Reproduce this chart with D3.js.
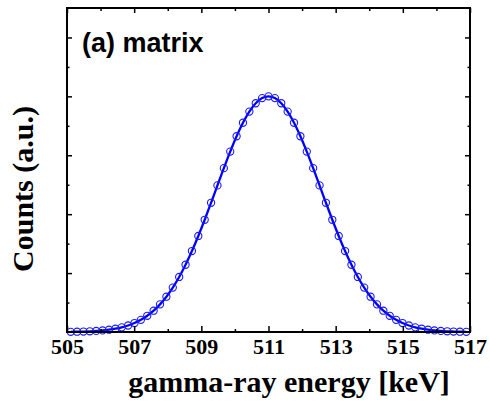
<!DOCTYPE html>
<html>
<head>
<meta charset="utf-8">
<script src="https://cdn.jsdelivr.net/npm/d3@7"></script>
<style>
  body { margin: 0; background: #fff; }
  svg { display: block; }
</style>
</head>
<body>
<div id="wrapper"></div>
<script>
// energies (keV) of the measured points
const energies = [
  505.11, 505.30, 505.49, 505.68, 505.87, 506.06, 506.25, 506.44, 506.63, 506.82,
  507.01, 507.20, 507.39, 507.58, 507.77, 507.96, 508.15, 508.34, 508.53, 508.72,
  508.91, 509.10, 509.29, 509.48, 509.67, 509.86, 510.05, 510.24, 510.43, 510.62,
  510.81, 511.00, 511.19, 511.38, 511.57, 511.76, 511.95, 512.14, 512.33, 512.52,
  512.71, 512.90, 513.09, 513.28, 513.47, 513.66, 513.85, 514.04, 514.23, 514.42,
  514.61, 514.80, 514.99, 515.18, 515.37, 515.56, 515.75, 515.94, 516.13, 516.32,
  516.51, 516.70, 516.89
]
// counts (a.u.)
const counts = [
  0.006, 0.010, 0.016, 0.024, 0.036, 0.053, 0.078, 0.112, 0.158, 0.221,
  0.304, 0.412, 0.550, 0.723, 0.938, 1.198, 1.508, 1.869, 2.284, 2.749,
  3.261, 3.810, 4.387, 4.977, 5.562, 6.125, 6.646, 7.105, 7.483, 7.766,
  7.941, 8.000, 7.941, 7.766, 7.483, 7.105, 6.646, 6.125, 5.562, 4.977,
  4.387, 3.810, 3.261, 2.749, 2.284, 1.869, 1.508, 1.198, 0.938, 0.723,
  0.550, 0.412, 0.304, 0.221, 0.158, 0.112, 0.078, 0.053, 0.036, 0.024,
  0.016, 0.010, 0.006
]
const xMajorTicks = [505, 507, 509, 511, 513, 515, 517]
const xMinorTicks = [506, 508, 510, 512, 514, 516]
const yMajorTicks = [2, 4, 6, 8, 10]
const yMinorTicks = [1, 3, 5, 7, 9]

const dataset = energies.map((e, i) => ({ energy: e, count: counts[i] }))
const xAccessor = d => d.energy
const yAccessor = d => d.count

let dimensions = {
  width: 490,
  height: 405,
  margin: { top: 8, right: 20, bottom: 73, left: 67 },
}
dimensions.boundedWidth = dimensions.width - dimensions.margin.left - dimensions.margin.right
dimensions.boundedHeight = dimensions.height - dimensions.margin.top - dimensions.margin.bottom

const wrapper = d3.select("#wrapper")
  .append("svg")
    .attr("width", dimensions.width)
    .attr("height", dimensions.height)

const bounds = wrapper.append("g")
  .attr("transform", `translate(${dimensions.margin.left},${dimensions.margin.top})`)

const xScale = d3.scaleLinear()
  .domain([505, 517])
  .range([0, dimensions.boundedWidth])

const yScale = d3.scaleLinear()
  .domain([0, 11])
  .range([dimensions.boundedHeight, 0])

// curve + open circles
const lineGenerator = d3.line()
  .x(d => xScale(xAccessor(d)))
  .y(d => yScale(yAccessor(d)))
  .curve(d3.curveCatmullRom)

bounds.append("path")
  .datum(dataset)
  .attr("d", lineGenerator)
  .attr("fill", "none")
  .attr("stroke", "#0000ff")
  .attr("stroke-width", 2.3)

bounds.selectAll("circle")
  .data(dataset)
  .enter().append("circle")
    .attr("cx", d => xScale(xAccessor(d)))
    .attr("cy", d => yScale(yAccessor(d)))
    .attr("r", 3.6)
    .attr("fill", "none")
    .attr("stroke", "#1a1aff")
    .attr("stroke-width", 1.1)

// axes, all ticks pointing inward
function styleAxis(g) {
  g.select(".domain").remove()
  g.selectAll(".tick line").attr("stroke", "#000").attr("stroke-width", 1.5)
}

const xAxis = bounds.append("g")
  .attr("transform", `translate(0,${dimensions.boundedHeight})`)
  .call(d3.axisBottom(xScale).tickValues(xMajorTicks).tickSize(-6).tickPadding(6).tickFormat(d3.format("d")))
  .call(styleAxis)
xAxis.selectAll("text")
  .attr("fill", "#000")
  .style("font-family", "'Liberation Serif', 'Times New Roman', serif")
  .style("font-weight", "bold")
  .style("font-size", "22px")

bounds.append("g")
  .attr("transform", `translate(0,${dimensions.boundedHeight})`)
  .call(d3.axisBottom(xScale).tickValues(xMinorTicks).tickSize(-3).tickFormat(""))
  .call(styleAxis)

bounds.append("g")
  .call(d3.axisTop(xScale).tickValues(xMajorTicks).tickSize(-5).tickFormat(""))
  .call(styleAxis)
bounds.append("g")
  .call(d3.axisTop(xScale).tickValues(xMinorTicks).tickSize(-3).tickFormat(""))
  .call(styleAxis)

bounds.append("g")
  .call(d3.axisLeft(yScale).tickValues(yMajorTicks).tickSize(-5).tickFormat(""))
  .call(styleAxis)
bounds.append("g")
  .call(d3.axisLeft(yScale).tickValues(yMinorTicks).tickSize(-2.5).tickFormat(""))
  .call(styleAxis)

bounds.append("g")
  .attr("transform", `translate(${dimensions.boundedWidth},0)`)
  .call(d3.axisRight(yScale).tickValues(yMajorTicks).tickSize(-5).tickFormat(""))
  .call(styleAxis)
bounds.append("g")
  .attr("transform", `translate(${dimensions.boundedWidth},0)`)
  .call(d3.axisRight(yScale).tickValues(yMinorTicks).tickSize(-2.5).tickFormat(""))
  .call(styleAxis)

// frame
bounds.append("rect")
  .attr("width", dimensions.boundedWidth)
  .attr("height", dimensions.boundedHeight)
  .attr("fill", "none")
  .attr("stroke", "#000")
  .attr("stroke-width", 2)

// labels
wrapper.append("text")
  .attr("x", 289)
  .attr("y", 392)
  .attr("text-anchor", "middle")
  .style("font-family", "'Liberation Serif', 'Times New Roman', serif")
  .style("font-weight", "bold")
  .style("font-size", "30px")
  .text("gamma-ray energy [keV]")

wrapper.append("text")
  .attr("transform", "translate(33,189) rotate(-90)")
  .attr("text-anchor", "middle")
  .style("font-family", "'Liberation Serif', 'Times New Roman', serif")
  .style("font-weight", "bold")
  .style("font-size", "30px")
  .text("Counts (a.u.)")

bounds.append("text")
  .attr("x", 15)
  .attr("y", 44)
  .style("font-family", "'Liberation Sans', Arial, sans-serif")
  .style("font-weight", "bold")
  .style("font-size", "27px")
  .text("(a) matrix")
</script>
</body>
</html>
